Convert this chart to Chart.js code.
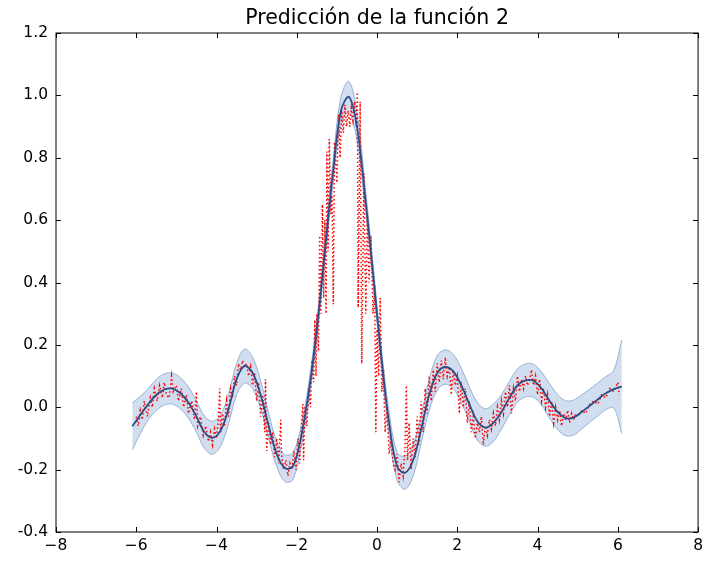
<!DOCTYPE html>
<html>
<head>
<meta charset="utf-8">
<script src="https://cdn.jsdelivr.net/npm/chart.js@4"></script>
<style>
  body { margin: 0; background: #fff; }
</style>
</head>
<body>
<canvas id="myChart" width="708" height="561"></canvas>
<script>
// prediction grid and posterior mean / spread
const gridX = [-6.1, -5.9, -5.7, -5.5, -5.3, -5.1, -4.9, -4.7, -4.5, -4.3, -4.1, -3.9, -3.7, -3.5, -3.3, -3.1,
  -2.9, -2.7, -2.5, -2.3, -2.1, -1.9, -1.7, -1.5, -1.3, -1.1, -0.9, -0.7, -0.5, -0.3, -0.1,
  0.1, 0.3, 0.5, 0.7, 0.9, 1.1, 1.3, 1.5, 1.7, 1.9, 2.1, 2.3, 2.5, 2.7, 2.9,
  3.1, 3.3, 3.5, 3.7, 3.9, 4.1, 4.3, 4.5, 4.7, 4.9, 5.1, 5.3, 5.5, 5.7, 5.9, 6.1];
const meanY = [-0.061, -0.025, 0.01, 0.04, 0.057, 0.06, 0.045, 0.015, -0.03, -0.08, -0.098, -0.075, -0.005, 0.09, 0.132, 0.11,
  0.04, -0.06, -0.15, -0.195, -0.19, -0.1, 0.05, 0.25, 0.5, 0.75, 0.95, 0.995, 0.9, 0.68, 0.43,
  0.17, -0.05, -0.19, -0.21, -0.17, -0.07, 0.04, 0.11, 0.129, 0.115, 0.07, 0.01, -0.045, -0.065, -0.05,
  -0.015, 0.03, 0.07, 0.086, 0.085, 0.06, 0.02, -0.015, -0.035, -0.033, -0.015, 0.005, 0.025, 0.045, 0.058, 0.066];
const spread = [0.075, 0.06, 0.05, 0.05, 0.05, 0.05, 0.05, 0.05, 0.05, 0.052, 0.053, 0.05, 0.048, 0.05, 0.055, 0.05,
  0.045, 0.04, 0.04, 0.043, 0.043, 0.035, 0.03, 0.03, 0.03, 0.035, 0.045, 0.05, 0.045, 0.035, 0.03,
  0.03, 0.035, 0.045, 0.053, 0.05, 0.045, 0.05, 0.055, 0.055, 0.055, 0.055, 0.055, 0.06, 0.06, 0.06,
  0.055, 0.053, 0.053, 0.053, 0.053, 0.053, 0.055, 0.056, 0.056, 0.056, 0.055, 0.053, 0.053, 0.053, 0.06, 0.15];

// noisy observations (red dotted)
const obsX = [-6.0, -5.95, -5.9, -5.85, -5.8, -5.72, -5.65, -5.6, -5.55, -5.48, -5.42, -5.35, -5.3, -5.25, -5.18, -5.12,
  -5.08, -5.0, -4.95, -4.88, -4.82, -4.75, -4.7, -4.62, -4.55, -4.5, -4.47, -4.4, -4.33, -4.27, -4.2, -4.15,
  -4.1, -4.05, -4.0, -3.95, -3.92, -3.9, -3.85, -3.8, -3.75, -3.7, -3.65, -3.6, -3.55, -3.5, -3.45, -3.4,
  -3.35, -3.3, -3.25, -3.2, -3.15, -3.1, -3.05, -3.0, -2.95, -2.9, -2.85, -2.8, -2.78, -2.75, -2.7, -2.65,
  -2.6, -2.55, -2.5, -2.45, -2.4, -2.38, -2.33, -2.27, -2.22, -2.17, -2.12, -2.07, -2.02, -1.97, -1.93, -1.88,
  -1.85, -1.83, -1.8, -1.75, -1.7, -1.66, -1.62, -1.58, -1.55, -1.52, -1.5, -1.46, -1.43, -1.4, -1.36, -1.33,
  -1.3, -1.27, -1.25, -1.22, -1.19, -1.15, -1.12, -1.09, -1.06, -1.0, -0.96, -0.92, -0.88, -0.84, -0.8, -0.76,
  -0.72, -0.68, -0.64, -0.6, -0.56, -0.52, -0.49, -0.47, -0.42, -0.38, -0.33, -0.28, -0.24, -0.2, -0.15, -0.1,
  -0.06, -0.03, 0.0, 0.04, 0.08, 0.12, 0.16, 0.2, 0.25, 0.3, 0.35, 0.4, 0.45, 0.5, 0.55, 0.6,
  0.65, 0.7, 0.73, 0.76, 0.8, 0.85, 0.9, 0.95, 1.0, 1.05, 1.1, 1.15, 1.2, 1.25, 1.3, 1.35,
  1.4, 1.45, 1.5, 1.55, 1.6, 1.65, 1.7, 1.75, 1.8, 1.85, 1.9, 1.95, 2.0, 2.05, 2.1, 2.15,
  2.2, 2.25, 2.3, 2.35, 2.4, 2.45, 2.5, 2.55, 2.6, 2.65, 2.7, 2.75, 2.8, 2.85, 2.9, 2.95,
  3.0, 3.05, 3.1, 3.15, 3.2, 3.25, 3.3, 3.35, 3.4, 3.45, 3.5, 3.55, 3.6, 3.65, 3.7, 3.75,
  3.8, 3.85, 3.9, 3.95, 4.0, 4.05, 4.1, 4.15, 4.2, 4.25, 4.3, 4.35, 4.4, 4.45, 4.5, 4.55,
  4.6, 4.65, 4.7, 4.75, 4.8, 4.85, 4.9, 4.95, 5.0, 5.1, 5.2, 5.3, 5.4, 5.5, 5.6, 5.7,
  5.8, 5.9, 6.0, 6.03];
const obsY = [-0.03, -0.06, -0.01, -0.04, 0.02, -0.03, 0.03, 0.0, 0.06, 0.02, 0.07, 0.03, 0.08, 0.04, 0.03, 0.1,
  0.05, 0.07, 0.02, 0.06, 0.0, 0.04, -0.02, 0.02, -0.04, 0.05, -0.06, -0.03, -0.09, -0.06, -0.11, -0.08,
  -0.12, -0.07, -0.1, -0.03, 0.06, -0.08, -0.02, -0.06, 0.02, -0.03, 0.06, 0.03, 0.1, 0.07, 0.14, 0.12,
  0.15, 0.13, 0.14, 0.1, 0.13, 0.07, 0.11, 0.02, 0.08, -0.03, 0.04, -0.08, 0.09, -0.14, -0.05, -0.12,
  -0.08, -0.16, -0.1, -0.18, -0.04, -0.15, -0.2, -0.17, -0.22, -0.18, -0.2, -0.14, -0.2, -0.1, -0.18, -0.05,
  0.01, -0.17, 0.0, -0.06, 0.06, 0.0, 0.15, 0.08, 0.28, 0.1, 0.3, 0.18, 0.55, 0.3, 0.65, 0.35,
  0.6, 0.3, 0.82, 0.5, 0.86, 0.62, 0.68, 0.33, 0.85, 0.72, 0.94, 0.8, 0.95, 0.88, 0.97, 0.9,
  0.95, 0.9, 0.96, 0.92, 0.98, 0.9, 1.01, 0.32, 0.98, 0.14, 0.75, 0.3, 0.62, 0.4, 0.55, 0.3,
  0.39, -0.08, 0.25, 0.1, 0.35, 0.05, 0.12, -0.08, 0.0, -0.15, -0.1, -0.18, -0.2, -0.15, -0.24, -0.18,
  -0.22, -0.12, 0.07, -0.17, -0.05, -0.2, -0.1, -0.16, -0.03, -0.12, 0.02, -0.08, 0.06, -0.02, 0.1, 0.02,
  0.12, 0.05, 0.14, 0.08, 0.15, 0.09, 0.16, 0.1, 0.13, 0.04, 0.12, 0.07, 0.1, -0.02, 0.08, 0.0,
  0.06, -0.05, 0.02, -0.08, -0.03, -0.1, -0.05, -0.08, -0.03, -0.12, -0.06, -0.09, -0.04, -0.07, -0.02, -0.06,
  0.0, -0.04, 0.02, -0.02, 0.05, 0.0, 0.07, -0.02, 0.06, 0.02, 0.1, 0.05, 0.09, 0.06, 0.1, 0.07,
  0.09, 0.12, 0.07, 0.1, 0.04, 0.09, 0.02, 0.06, 0.0, 0.04, -0.03, 0.02, -0.05, 0.0, -0.04, -0.01,
  -0.06, -0.02, -0.04, -0.01, -0.05, -0.02, -0.04, -0.02, -0.03, -0.01, -0.02, 0.01, 0.02, 0.01, 0.04, 0.03,
  0.06, 0.05, 0.08, 0.04];

const xTicks = [-8, -6, -4, -2, 0, 2, 4, 6, 8];
const yTicks = [-0.4, -0.2, 0.0, 0.2, 0.4, 0.6, 0.8, 1.0, 1.2];
const chartTitle = 'Predicción de la función 2';

const FONT = '"DejaVu Sans", sans-serif';

const pts = (xs, ys) => xs.map((x, i) => ({x: x, y: ys[i]}));
const meanPts = pts(gridX, meanY);
const lowerPts = gridX.map((x, i) => ({x: x, y: meanY[i] - spread[i]}));
const upperPts = gridX.map((x, i) => ({x: x, y: meanY[i] + spread[i]}));

// matplotlib-style frame, inward ticks, centred title
const framePlugin = {
  id: 'frame',
  afterDraw(chart) {
    const {ctx, chartArea: a, scales} = chart;
    ctx.save();
    ctx.strokeStyle = '#000';
    ctx.lineWidth = 1;
    ctx.strokeRect(a.left, a.top, a.right - a.left, a.bottom - a.top);
    ctx.beginPath();
    xTicks.forEach(v => {
      const px = Math.round(scales.x.getPixelForValue(v)) + 0.5;
      ctx.moveTo(px, a.bottom); ctx.lineTo(px, a.bottom - 5);
      ctx.moveTo(px, a.top); ctx.lineTo(px, a.top + 5);
    });
    yTicks.forEach(v => {
      const py = Math.round(scales.y.getPixelForValue(v)) + 0.5;
      ctx.moveTo(a.left, py); ctx.lineTo(a.left + 5, py);
      ctx.moveTo(a.right, py); ctx.lineTo(a.right - 5, py);
    });
    ctx.stroke();
    ctx.fillStyle = '#000';
    ctx.font = '20.5px ' + FONT;
    ctx.textAlign = 'center';
    ctx.textBaseline = 'alphabetic';
    ctx.fillText(chartTitle, (a.left + a.right) / 2, 24);
    ctx.restore();
  }
};

new Chart(document.getElementById('myChart'), {
  type: 'scatter',
  data: {
    datasets: [
      {label: 'media', data: meanPts, showLine: true, borderColor: '#2e4d86', borderWidth: 1.8,
       pointRadius: 0, tension: 0.35, fill: false},
      {label: 'datos', data: pts(obsX, obsY), showLine: true, borderColor: '#ff0000', borderWidth: 1.5,
       borderDash: [1.5, 2.5], pointRadius: 0, tension: 0, fill: false},
      {label: 'inf', data: lowerPts, showLine: true, borderColor: '#97b1d4', borderWidth: 1,
       pointRadius: 0, tension: 0.35, fill: false},
      {label: 'sup', data: upperPts, showLine: true, borderColor: '#97b1d4', borderWidth: 1,
       pointRadius: 0, tension: 0.35, fill: '-1', backgroundColor: 'rgba(176,200,228,0.6)'}
    ]
  },
  options: {
    responsive: false,
    animation: false,
    events: [],
    layout: {padding: {top: 33, right: 7, bottom: 0, left: 0}},
    plugins: {legend: {display: false}, tooltip: {enabled: false}, title: {display: false}},
    scales: {
      x: {
        type: 'linear', min: -8, max: 8,
        afterBuildTicks: s => { s.ticks = xTicks.map(v => ({value: v})); },
        afterFit: s => { s.height = 29; },
        grid: {display: false, drawTicks: false},
        border: {display: false},
        ticks: {
          color: '#000', font: {family: FONT, size: 15.5}, padding: 5, maxRotation: 0,
          callback: v => (v < 0 ? '\u2212' + Math.abs(v) : String(v))
        }
      },
      y: {
        type: 'linear', min: -0.4, max: 1.2,
        afterBuildTicks: s => { s.ticks = yTicks.map(v => ({value: v})); },
        afterFit: s => { s.width = 56; },
        grid: {display: false, drawTicks: false},
        border: {display: false},
        ticks: {
          color: '#000', font: {family: FONT, size: 15.5}, padding: 8,
          callback: v => v.toFixed(1)
        }
      }
    }
  },
  plugins: [framePlugin]
});
</script>
</body>
</html>
